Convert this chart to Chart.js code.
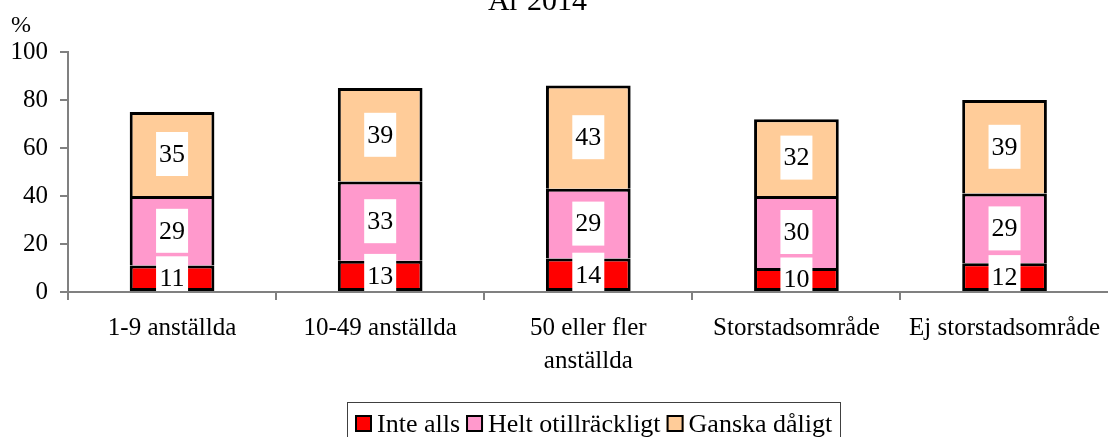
<!DOCTYPE html>
<html>
<head>
<meta charset="utf-8">
<script src="https://cdn.jsdelivr.net/npm/chart.js@4/dist/chart.umd.min.js"></script>
<style>
  html, body { margin: 0; padding: 0; background: #fff; overflow: hidden; }
  #wrap { width: 1108px; height: 437px; overflow: hidden; }
</style>
</head>
<body>
<div id="wrap"><canvas id="chart" width="1112" height="437"></canvas></div>
<script>
const categories = ["1-9 anställda", "10-49 anställda", ["50 eller fler", "anställda"], "Storstadsområde", "Ej storstadsområde"];
const inteAlls = [11, 13, 14, 10, 12];
const heltOtillrackligt = [29, 33, 29, 30, 29];
const ganskaDaligt = [35, 39, 43, 32, 39];
const yTicks = [0, 20, 40, 60, 80, 100];

const SERIF = '"Liberation Serif", "Times New Roman", serif';
const AXIS_GREY = "#808080";

// white boxes with the segment value in the middle of each stacked piece
const valueBoxes = {
  id: "valueBoxes",
  afterDatasetsDraw(chart) {
    const { ctx, chartArea } = chart;
    ctx.save();
    ctx.beginPath();
    ctx.rect(chartArea.left, chartArea.top - 30, chartArea.width, chartArea.height + 29);
    ctx.clip();
    ctx.font = "26px " + SERIF;
    ctx.textAlign = "center";
    ctx.textBaseline = "middle";
    chart.data.datasets.forEach((ds, i) => {
      chart.getDatasetMeta(i).data.forEach((bar, j) => {
        const cy = (bar.y + bar.base) / 2;
        ctx.fillStyle = "#fff";
        ctx.fillRect(bar.x - 16, cy - 22, 32, 44);
        ctx.fillStyle = "#000";
        ctx.fillText(String(ds.data[j]), bar.x, cy + 1);
      });
    });
    ctx.restore();
  }
};

// title, unit label and the framed legend at the bottom
const decorations = {
  id: "decorations",
  afterDraw(chart) {
    const { ctx } = chart;
    ctx.save();
    ctx.fillStyle = "#000";
    ctx.textBaseline = "alphabetic";

    ctx.font = "30px " + SERIF;
    ctx.textAlign = "center";
    ctx.fillText("År 2014", 537.5, 9.5);

    ctx.font = "24px " + SERIF;
    ctx.textAlign = "left";
    ctx.fillText("%", 11, 32);

    // legend frame
    ctx.strokeStyle = "#404040";
    ctx.lineWidth = 1;
    ctx.strokeRect(347.5, 402.5, 493, 60);

    ctx.font = "26px " + SERIF;
    let x = 355;
    chart.data.datasets.forEach((ds) => {
      ctx.fillStyle = ds.backgroundColor;
      ctx.fillRect(x, 415, 17, 17);
      ctx.strokeStyle = "#000";
      ctx.lineWidth = 2;
      ctx.strokeRect(x + 1, 416, 15, 15);
      ctx.fillStyle = "#000";
      ctx.fillText(ds.label, x + 22, 432);
      x += 22 + ctx.measureText(ds.label).width + 6;
    });
    ctx.restore();
  }
};

const makeSet = (label, data, color, skipped) => ({
  label,
  data,
  backgroundColor: color,
  borderColor: "#000",
  borderWidth: 3,
  borderSkipped: skipped,
  categoryPercentage: 1,
  barPercentage: 0.407
});

new Chart(document.getElementById("chart"), {
  type: "bar",
  data: {
    labels: categories,
    datasets: [
      makeSet("Inte alls", inteAlls, "#FF0000", false),
      makeSet("Helt otillräckligt", heltOtillrackligt, "#FF99CC", "start"),
      makeSet("Ganska dåligt", ganskaDaligt, "#FFCC99", "start")
    ]
  },
  options: {
    responsive: false,
    animation: false,
    layout: { padding: { top: 52, left: 0, right: 0, bottom: 0 } },
    plugins: {
      legend: { display: false },
      title: { display: false },
      tooltip: { enabled: false }
    },
    scales: {
      x: {
        stacked: true,
        grid: {
          offset: true,
          drawOnChartArea: false,
          drawTicks: true,
          tickLength: 8,
          color: AXIS_GREY,
          lineWidth: 2
        },
        border: { display: true, color: AXIS_GREY, width: 2 },
        ticks: {
          color: "#000",
          padding: 12,
          maxRotation: 0,
          autoSkip: false,
          font: { family: SERIF, size: 25, lineHeight: 1.32 }
        },
        afterFit(scale) { scale.height = 145; }
      },
      y: {
        stacked: true,
        min: 0,
        max: 100,
        afterBuildTicks(scale) { scale.ticks = yTicks.map((v) => ({ value: v })); },
        grid: {
          drawOnChartArea: false,
          drawTicks: true,
          tickLength: 8,
          color: AXIS_GREY,
          lineWidth: 2
        },
        border: { display: true, color: AXIS_GREY, width: 2 },
        ticks: {
          color: "#000",
          padding: 12,
          font: { family: SERIF, size: 25 }
        },
        afterFit(scale) { scale.width = 68; }
      }
    }
  },
  plugins: [valueBoxes, decorations]
});
</script>
</body>
</html>
